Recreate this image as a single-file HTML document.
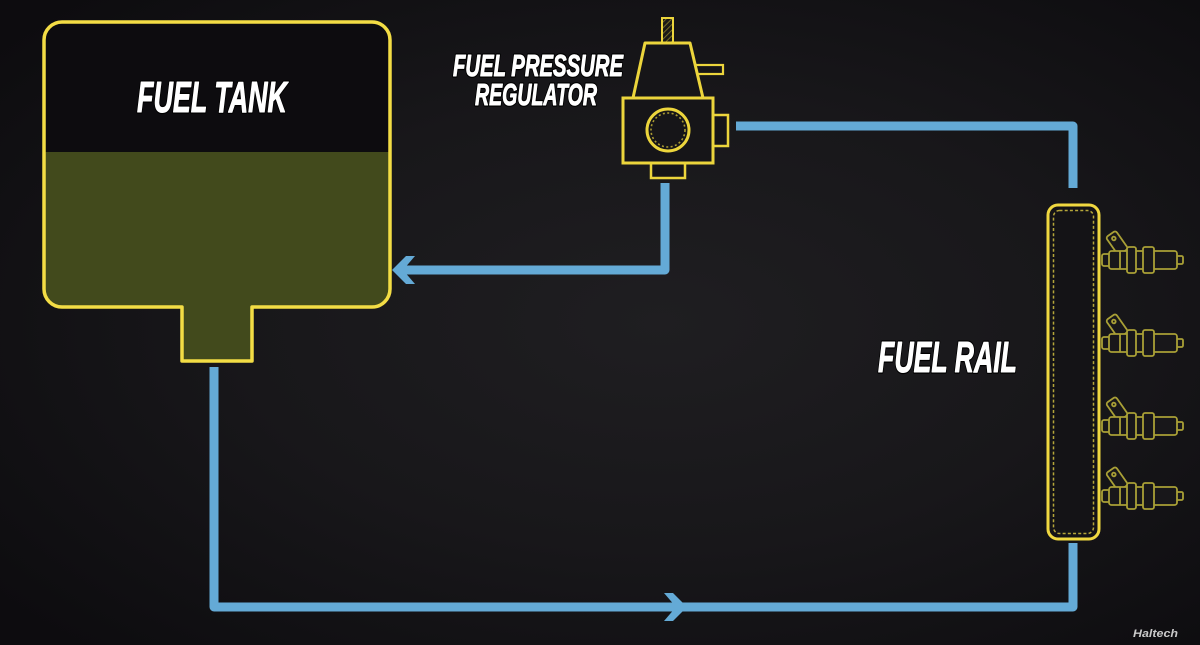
<!DOCTYPE html>
<html>
<head>
<meta charset="utf-8">
<style>
  html,body{margin:0;padding:0;width:1200px;height:645px;overflow:hidden;background:#141316;}
  svg{display:block;}
</style>
</head>
<body>
<svg width="1200" height="645" viewBox="0 0 1200 645" xmlns="http://www.w3.org/2000/svg">
  <defs>
    <radialGradient id="bg" cx="55%" cy="50%" r="70%">
      <stop offset="0" stop-color="#1f1e21"/>
      <stop offset="0.5" stop-color="#18171a"/>
      <stop offset="1" stop-color="#0d0c0f"/>
    </radialGradient>
    <clipPath id="tankclip">
      <path d="M 62 22 H 372 A 18 18 0 0 1 390 40 V 289 A 18 18 0 0 1 372 307 H 252 V 361 H 182 V 307 H 62 A 18 18 0 0 1 44 289 V 40 A 18 18 0 0 1 62 22 Z"/>
    </clipPath>
    <pattern id="hatch" width="4" height="4" patternUnits="userSpaceOnUse" patternTransform="rotate(45)">
      <rect width="4" height="4" fill="#1a1916"/>
      <line x1="0" y1="0" x2="0" y2="4" stroke="#8a7f2a" stroke-width="1.6"/>
    </pattern>
    <g id="inj" fill="#18171a" stroke="#a9a036" stroke-width="1.8">
      <rect x="0" y="-6" width="8" height="12" rx="2"/>
      <rect x="74" y="-4" width="7" height="8" rx="1.5"/>
      <g transform="translate(15,-17) rotate(-35)">
        <rect x="-6" y="-11" width="12" height="22" rx="2.5"/>
        <circle cx="0" cy="-5.5" r="1.8"/>
      </g>
      <rect x="7" y="-9" width="68" height="18" rx="2.5"/>
      <line x1="18" y1="-9" x2="18" y2="9"/>
      <rect x="25" y="-13" width="9" height="26" rx="2"/>
      <rect x="41" y="-13" width="11" height="26" rx="2"/>
    </g>
  </defs>

  <rect width="1200" height="645" fill="url(#bg)"/>

  <!-- Fuel tank -->
  <g clip-path="url(#tankclip)">
    <rect x="40" y="18" width="360" height="140" fill="#0d0c0f"/>
    <rect x="40" y="152" width="360" height="215" fill="#424a1c"/>
  </g>
  <path d="M 62 22 H 372 A 18 18 0 0 1 390 40 V 289 A 18 18 0 0 1 372 307 H 252 V 361 H 182 V 307 H 62 A 18 18 0 0 1 44 289 V 40 A 18 18 0 0 1 62 22 Z" fill="none" stroke="#f3dd45" stroke-width="3.5" stroke-linejoin="round"/>

  <!-- Blue lines -->
  <g fill="none" stroke="#64aad6" stroke-width="9" stroke-linejoin="round">
    <path d="M 214 367 V 607 H 1073 V 543"/>
    <path d="M 1073 188 V 126 H 736"/>
    <path d="M 665 183 V 270 H 403"/>
  </g>
  <g fill="#64aad6">
    <polygon points="392,270 406,256 415,256 403,270 415,284 406,284"/>
    <polygon points="687,607 673,593 664,593 676,607 664,621 673,621"/>
  </g>

  <!-- Regulator -->
  <g stroke="#ecd53c" fill="#161518">
    <rect x="662" y="18" width="11" height="25" fill="url(#hatch)" stroke-width="2"/>
    <rect x="690" y="65" width="33" height="9" stroke-width="2.2"/>
    <polygon points="645,43 690,43 703,98 633,98" stroke-width="3" stroke-linejoin="round"/>
    <rect x="711" y="115" width="17" height="31" stroke-width="2.5"/>
    <rect x="651" y="161" width="34" height="17" stroke-width="2.5"/>
    <rect x="623" y="98" width="90" height="65" stroke-width="3"/>
    <circle cx="668" cy="130" r="21" stroke-width="3"/>
    <circle cx="668" cy="130" r="17" fill="none" stroke="#a99a32" stroke-width="1.6" stroke-dasharray="2 2.4"/>
  </g>

  <!-- Fuel rail -->
  <rect x="1048" y="205" width="51" height="334" rx="10" fill="#141316" stroke="#f0d840" stroke-width="3"/>
  <rect x="1053.5" y="210.5" width="40" height="323" rx="6" fill="none" stroke="#b4a53a" stroke-width="1.5" stroke-dasharray="3 2.2"/>

  <!-- Injectors -->
  <use href="#inj" transform="translate(1102,260)"/>
  <use href="#inj" transform="translate(1102,343)"/>
  <use href="#inj" transform="translate(1102,426)"/>
  <use href="#inj" transform="translate(1102,496)"/>

  <!-- Labels: dark outline pass -->
  <g font-family="Liberation Sans, sans-serif" font-weight="bold" font-style="italic" fill="#000000" stroke="#000000" stroke-width="3.5" stroke-linejoin="round">
    <text x="137" y="112" font-size="44" textLength="150" lengthAdjust="spacingAndGlyphs">FUEL TANK</text>
    <text x="453" y="76" font-size="31" textLength="170" lengthAdjust="spacingAndGlyphs">FUEL PRESSURE</text>
    <text x="475" y="105" font-size="31" textLength="122" lengthAdjust="spacingAndGlyphs">REGULATOR</text>
    <text x="878" y="372" font-size="44" textLength="139" lengthAdjust="spacingAndGlyphs">FUEL RAIL</text>
  </g>
  <!-- Labels: white pass (slightly emboldened) -->
  <g font-family="Liberation Sans, sans-serif" font-weight="bold" font-style="italic" fill="#ffffff" stroke="#ffffff" stroke-width="1" stroke-linejoin="round">
    <text x="137" y="112" font-size="44" textLength="150" lengthAdjust="spacingAndGlyphs">FUEL TANK</text>
    <text x="453" y="76" font-size="31" textLength="170" lengthAdjust="spacingAndGlyphs">FUEL PRESSURE</text>
    <text x="475" y="105" font-size="31" textLength="122" lengthAdjust="spacingAndGlyphs">REGULATOR</text>
    <text x="878" y="372" font-size="44" textLength="139" lengthAdjust="spacingAndGlyphs">FUEL RAIL</text>
  </g>
  <text x="1133" y="637" font-family="Liberation Sans, sans-serif" font-weight="bold" font-style="italic" font-size="11" fill="#c9c9c9" textLength="45" lengthAdjust="spacingAndGlyphs">Haltech</text>
</svg>
</body>
</html>
